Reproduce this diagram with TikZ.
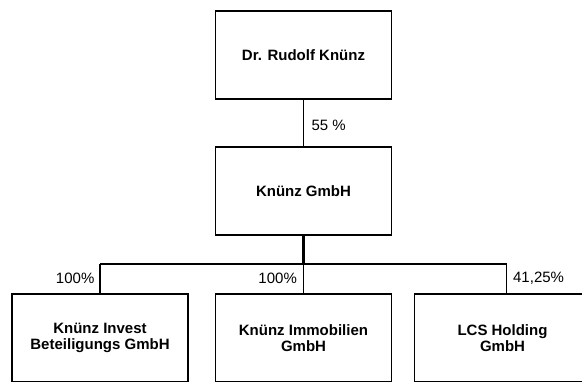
\documentclass[tikz,border=0pt]{standalone}
\usepackage{fontspec}
\setmainfont{Liberation Sans}
\usepackage{tikz}
\usetikzlibrary{calc,positioning}
\newlength{\px}

\begin{document}
\begin{tikzpicture}
    [   firm/.style = {draw, line width=1.3\px, minimum width=176\px, minimum height=88\px,
                       align=center, font=\bfseries\fontsize{15}{16}\selectfont},
        line/.style = {line width=1.3\px},
        trunk/.style = {line width=2.2\px},
        pct/.style = {inner sep=0pt, font=\fontsize{15}{16}\selectfont}
    ]
    \setlength{\px}{1pt}
    \useasboundingbox (0\px,0\px) rectangle (582\px,381\px);
    \clip (0\px,0\px) rectangle (582\px,381\px);
    % Owner
    \node[firm] (rudolf) at (303.5\px,326\px) {Dr. Rudolf Knünz};
    % Holding
    \node[firm] (gmbh) at (303.5\px,190\px) {Knünz GmbH};
    % Subsidiaries
    \node[firm] (invest) at (100\px,43\px) {Knünz Invest\\Beteiligungs GmbH};
    \node[firm] (immo) at (303.5\px,43\px) {Knünz Immobilien\\GmbH};
    \node[firm] (lcs) at (502.5\px,43\px) {LCS Holding\\GmbH};
    % Connectors
    \coordinate (bar) at (303.5\px,117\px);
    \coordinate (lcstop) at ($(lcs.north)+(4\px,0\px)$);
    \draw[line] (rudolf.south) -- node[pct,pos=0.56,right=7.5\px] {55 \%} (gmbh.north);
    \draw[trunk] (gmbh.south) -- (bar);
    \draw[line] (invest.north |- bar) -- (lcstop |- bar);
    \draw[line] (invest.north) -- node[pct,left=5\px] {100\%} (invest.north |- bar);
    \draw[line] (immo.north) -- node[pct,left=6\px] {100\%} (bar);
    \draw[line] (lcstop) -- node[pct,right=6\px] {41,25\%} (lcstop |- bar);
\end{tikzpicture}
\end{document}
